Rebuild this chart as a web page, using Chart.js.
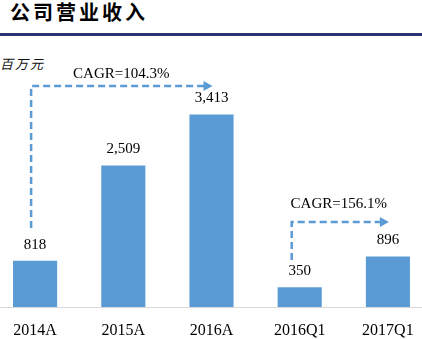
<!DOCTYPE html>
<html>
<head>
<meta charset="utf-8">
<script src="https://cdn.jsdelivr.net/npm/chart.js@4.4.0/dist/chart.umd.min.js"></script>
<style>
  body { margin: 0; width: 422px; height: 339px; overflow: hidden; background: #fff; position: relative; }
  #title { position: absolute; left: 10px; top: 0px; font: bold 20px "Noto Sans CJK SC", sans-serif; letter-spacing: 3px; color: #000; line-height: 24px; }
  #rule { position: absolute; left: 0; top: 33px; width: 422px; height: 2.5px; background: #2B3272; }
  #unit { position: absolute; left: 0; top: 54px; font: italic 13px "Noto Sans CJK SC", serif; letter-spacing: 2px; color: #111; }
  #wrap { position: absolute; left: -9px; top: 0; width: 441px; height: 339px; }
</style>
</head>
<body>
<div id="title">公司营业收入</div>
<div id="rule"></div>
<div id="unit">百万元</div>
<div id="wrap"><canvas id="revenueChart" width="441" height="339"></canvas></div>
<script>
const periods = ['2014A', '2015A', '2016A', '2016Q1', '2017Q1'];
const revenue = [818, 2509, 3413, 350, 896];
const cagrArrows = [
    { from: 0, to: 2, text: 'CAGR=104.3%', top: 3916, bottom: 1400, textAt: 4129, shift: -4, textShift: -2 },
    { from: 3, to: 4, text: 'CAGR=156.1%', top: 1506, bottom: 833, textAt: 1825, shift: -8, textShift: -5 }
];

const blue = '#5B9BD5';
const serif = '"Liberation Serif", "Times New Roman", serif';

// value labels on top of bars
const valueLabels = {
    id: 'valueLabels',
    afterDatasetsDraw(chart) {
        const ctx = chart.ctx;
        const meta = chart.getDatasetMeta(0);
        ctx.save();
        ctx.font = '15px ' + serif;
        ctx.fillStyle = '#000';
        ctx.textAlign = 'center';
        ctx.textBaseline = 'middle';
        meta.data.forEach((bar, i) => {
            ctx.fillText(revenue[i].toLocaleString('en-US'), bar.x, bar.y - 16);
        });
        ctx.restore();
    }
};

// dashed CAGR arrows
const cagrPlugin = {
    id: 'cagrPlugin',
    afterDatasetsDraw(chart) {
        const ctx = chart.ctx;
        const xs = chart.scales.x, ys = chart.scales.y;
        cagrArrows.forEach(a => {
            const x0 = xs.getPixelForValue(a.from) + a.shift;
            const x1 = xs.getPixelForValue(a.to) + 1;
            const yTop = ys.getPixelForValue(a.top);
            const yBot = ys.getPixelForValue(a.bottom);
            ctx.save();
            ctx.strokeStyle = blue;
            ctx.lineWidth = 2.5;
            ctx.setLineDash([7, 4]);
            ctx.beginPath();
            ctx.moveTo(x0, yBot);
            ctx.lineTo(x0, yTop);
            ctx.lineTo(x1 - 8, yTop);
            ctx.stroke();
            ctx.setLineDash([]);
            ctx.fillStyle = blue;
            ctx.beginPath();
            ctx.moveTo(x1, yTop);
            ctx.lineTo(x1 - 9, yTop - 5);
            ctx.lineTo(x1 - 9, yTop + 5);
            ctx.closePath();
            ctx.fill();
            ctx.font = '15px ' + serif;
            ctx.fillStyle = '#000';
            ctx.textAlign = 'center';
            ctx.textBaseline = 'middle';
            const mid = (xs.getPixelForValue(a.from) + xs.getPixelForValue(a.to)) / 2;
            ctx.fillText(a.text, mid + a.textShift, ys.getPixelForValue(a.textAt));
            ctx.restore();
        });
    }
};

new Chart(document.getElementById('revenueChart'), {
    type: 'bar',
    data: {
        labels: periods,
        datasets: [{
            data: revenue,
            backgroundColor: blue,
            barPercentage: 0.5,
            categoryPercentage: 1
        }]
    },
    options: {
        responsive: false,
        devicePixelRatio: 1,
        animation: false,
        layout: { padding: { top: 70, left: 0, right: 0, bottom: 0 } },
        plugins: { legend: { display: false }, tooltip: { enabled: false } },
        scales: {
            x: {
                grid: { display: false },
                border: { display: true, color: '#D9D9D9', width: 1 },
                ticks: { color: '#000', font: { family: serif, size: 16 }, padding: 6, maxRotation: 0 },
                afterFit(scale) { scale.height = 32; }
            },
            y: { display: false, min: 0, max: 4200 }
        }
    },
    plugins: [valueLabels, cagrPlugin]
});
</script>
</body>
</html>
